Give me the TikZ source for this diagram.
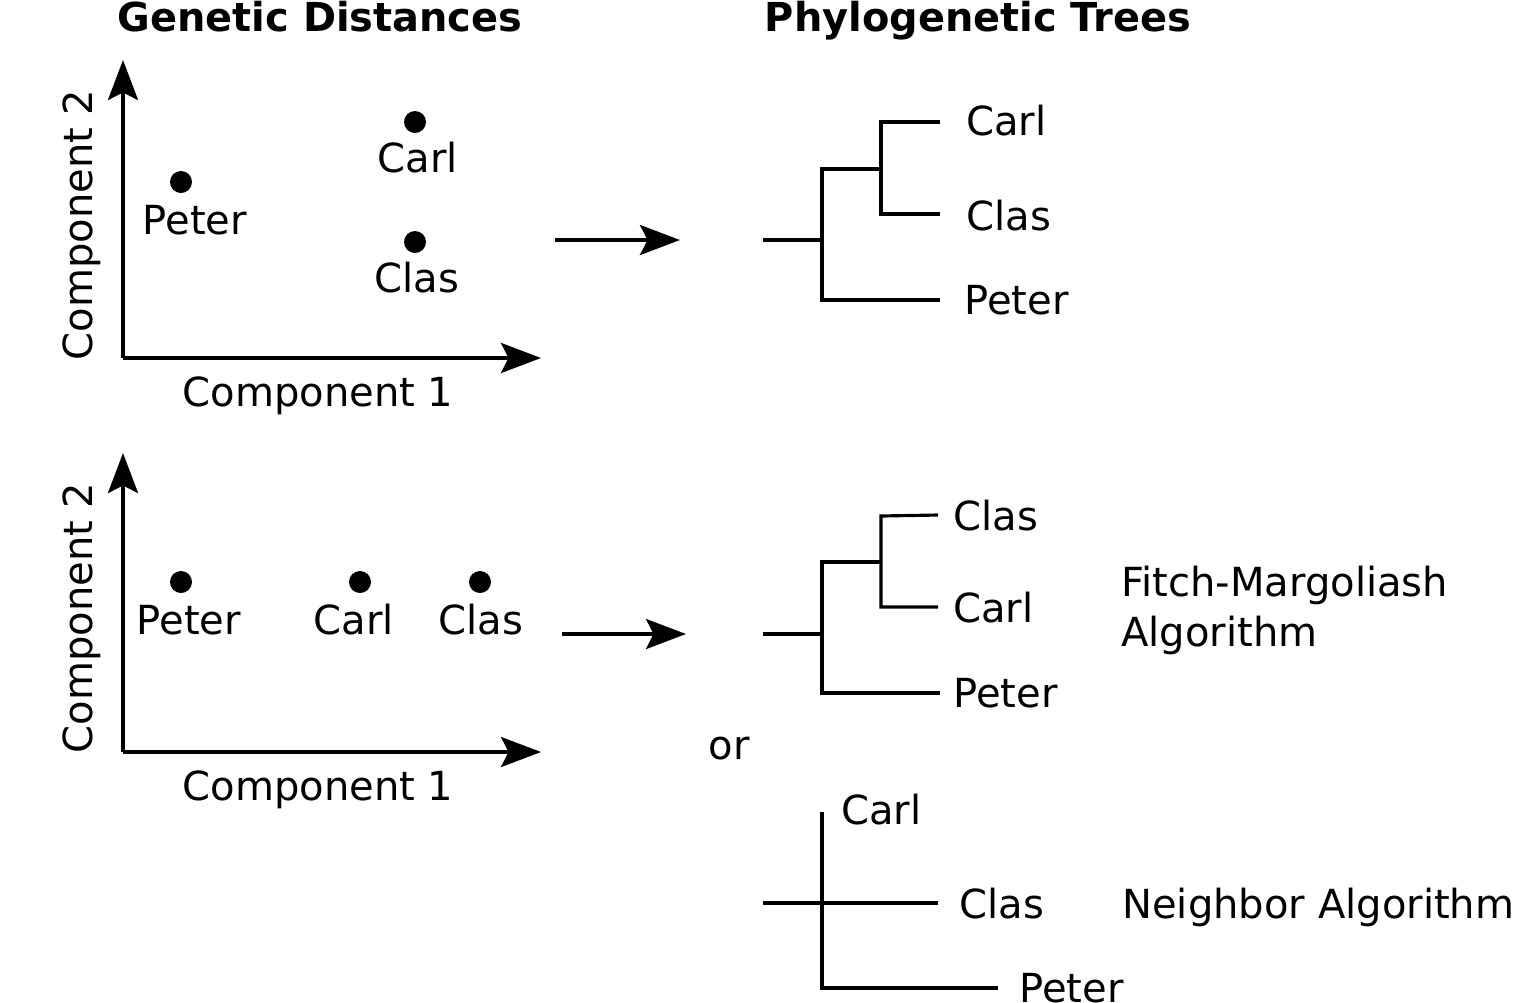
\documentclass[tikz,border=0pt]{standalone}
\usepackage{fontspec}
\setmainfont{DejaVu Sans}
\usetikzlibrary{arrows.meta}

\begin{document}
\begin{tikzpicture}[x=0.02cm, y=-0.02cm,
	font=\fontsize{22.8}{28.45}\selectfont,
	axis/.style={line width=2pt, -{Stealth[length=0.8cm, width=0.6cm, inset=0.15cm]}},
	branch/.style={line width=1.8pt},
	dot/.style={circle, fill=black, inner sep=0pt, minimum size=0.44cm},
	lbl/.style={inner sep=0pt, anchor=base},
	leaf/.style={inner sep=0pt, anchor=base west}]
	\useasboundingbox (0,0) rectangle (1535,1002);
	% titles
	\node[lbl, font=\fontsize{22.7}{28}\selectfont\bfseries] (gd) at (320,31) {Genetic Distances};
	\node[lbl, font=\fontsize{22.7}{28}\selectfont\bfseries] (pt) at (978,31) {Phylogenetic Trees};
%
	% upper plot
	\coordinate (o1) at (123,358);
	\coordinate (y1) at (123,60);
	\coordinate (x1) at (541,358);
	\draw [axis] (o1) -- (y1);
	\draw [axis] (o1) -- (x1);
	\node[lbl, rotate=90] (c2a) at (92,225) {Component 2};
	\node[lbl] (c1a) at (318,406) {Component 1};
	\node[dot] (carlA) at (415,122) {};
	\node[dot] (peterA) at (181,182) {};
	\node[dot] (clasA) at (415,242) {};
	\node[lbl] at (418,172) {Carl};
	\node[lbl] at (195,234) {Peter};
	\node[lbl] at (417,292) {Clas};
	\draw [axis] (555,240) coordinate (a1) -- (680,240) coordinate (b1);
%
	% upper tree
	\draw [branch] (763,240) -- (822,240);
	\draw [branch] (940,300) -- (822,300) -- (822,169) -- (881,169);
	\draw [branch] (940,122) -- (881,122) -- (881,214) -- (940,214);
	\node[leaf] at (966,135) {Carl};
	\node[leaf] at (966,230) {Clas};
	\node[leaf] at (964,314) {Peter};
%
	% lower plot
	\coordinate (o2) at (123,752);
	\coordinate (y2) at (123,453);
	\coordinate (x2) at (541,752);
	\draw [axis] (o2) -- (y2);
	\draw [axis] (o2) -- (x2);
	\node[lbl, rotate=90] (c2b) at (92,618) {Component 2};
	\node[lbl] (c1b) at (318,800) {Component 1};
	\node[dot] (peterB) at (181,582) {};
	\node[dot] (carlB) at (360,582) {};
	\node[dot] (clasB) at (480,582) {};
	\node[lbl] at (189,634) {Peter};
	\node[lbl] at (354,634) {Carl};
	\node[lbl] at (481,634) {Clas};
	\draw [axis] (562,634) coordinate (a2) -- (686,634) coordinate (b2);
%
	% lower trees
	\draw [branch] (763,634) -- (822,634);
	\draw [branch] (940,693) -- (822,693) -- (822,562) -- (881,562);
	\draw [branch] (938,515) -- (881,516) -- (881,607) -- (938,607);
	\node[leaf] at (953,530) {Clas};
	\node[leaf] at (953,622) {Carl};
	\node[leaf] at (953,707) {Peter};
	\node[leaf, align=left] (fm) at (1121,646) {Fitch-Margoliash\\Algorithm};
	\node[lbl] (or) at (729,759) {or};
	\draw [branch] (822,812) -- (822,988) -- (998,988);
	\draw [branch] (763,903) -- (938,903);
	\node[leaf] at (841,824) {Carl};
	\node[leaf] at (959,918) {Clas};
	\node[leaf] at (1019,1002) {Peter};
	\node[leaf] (nj) at (1122,918) {Neighbor Algorithm};
\end{tikzpicture}
\end{document}
